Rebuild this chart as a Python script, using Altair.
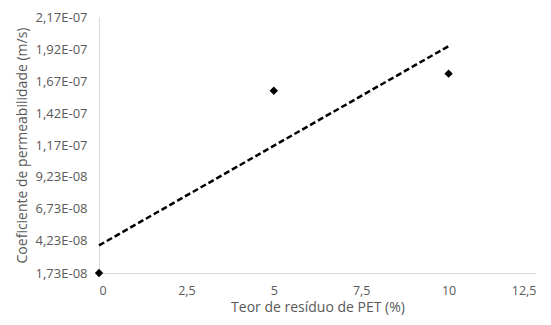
import altair as alt
import pandas as pd

teor = [0, 5, 10]
coef = [1.73e-08, 1.595e-07, 1.728e-07]

y_ticks = [1.73e-08, 4.23e-08, 6.73e-08, 9.23e-08, 1.17e-07, 1.42e-07, 1.67e-07, 1.92e-07, 2.17e-07]
y_labels = ["1,73E-08", "4,23E-08", "6,73E-08", "9,23E-08", "1,17E-07", "1,42E-07", "1,67E-07", "1,92E-07", "2,17E-07"]
x_ticks = [0, 2.5, 5, 7.5, 10, 12.5]

df = pd.DataFrame({"teor": teor, "coef": coef})

font = "Open Sans"
gray = "#595959"
label_arr = "[" + ",".join("'" + s + "'" for s in y_labels) + "]"

x = alt.X("teor:Q", scale=alt.Scale(domain=[0, 12.5], nice=False),
          axis=alt.Axis(title="Teor de resíduo de PET (%)", values=x_ticks,
                        labelExpr="replace(toString(datum.value), '.', ',')",
                        grid=False, ticks=False, domainColor="#d9d9d9",
                        labelPadding=11, titlePadding=4,
                        labelFont=font, titleFont=font, labelFontSize=12.5, titleFontSize=14,
                        labelColor=gray, titleColor=gray, titleFontWeight="normal"))
y = alt.Y("coef:Q", scale=alt.Scale(domain=[1.73e-08, 2.17e-07], nice=False, zero=False),
          axis=alt.Axis(title="Coeficiente de permeabilidade (m/s)", values=y_ticks,
                        labelExpr=label_arr + "[round((datum.value - 1.73e-08) / 2.5e-08)]",
                        grid=False, ticks=False, domainColor="#d9d9d9",
                        labelPadding=12, titlePadding=6,
                        labelFont=font, titleFont=font, labelFontSize=13, titleFontSize=14,
                        labelColor=gray, titleColor=gray, titleFontWeight="normal"))

base = alt.Chart(df)
trend = base.mark_line(color="black", strokeDash=[6, 3], strokeWidth=2.5).encode(
    x=x, y=y).transform_regression("teor", "coef")
pts = base.mark_point(shape="diamond", filled=True, color="black", size=70, opacity=1, clip=False).encode(x=x, y=y)

chart = (trend + pts).properties(
    width=437, height=256,
    autosize=alt.AutoSizeParams(type="none"),
    padding={"left": 91, "top": 9, "right": 7, "bottom": 44},
).configure_view(stroke=None)

chart.save("out.html", embed_options={"renderer": "svg", "actions": False})
